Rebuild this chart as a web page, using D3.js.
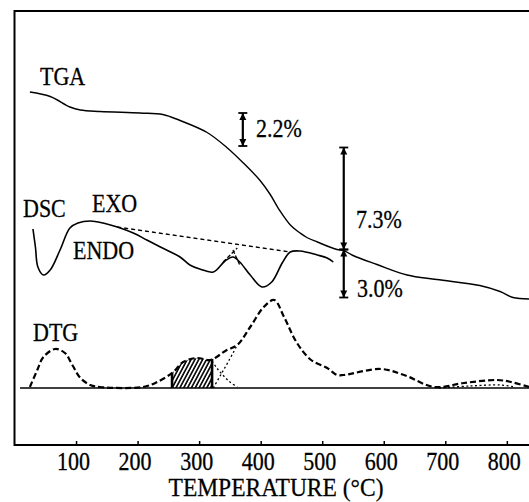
<!DOCTYPE html>
<html>
<head>
<meta charset="utf-8">
<script src="https://cdn.jsdelivr.net/npm/d3@7"></script>
<style>
  html, body { margin: 0; padding: 0; background: #fff; }
  svg { display: block; }
  text { font-family: "Liberation Serif", "Times New Roman", serif; fill: #000; stroke: #000; stroke-width: 0.25; }
</style>
</head>
<body>
<div id="chart"></div>
<script>
// ---- data ----
// x: temperature (deg C)
var xTicks = [100, 200, 300, 400, 500, 600, 700, 800];

// TGA, remaining mass (%)
var tgaTemp = [25, 58, 90, 107, 139, 204, 241, 269, 313, 345, 371, 399, 415, 431, 449, 464, 475, 492, 524, 534, 550, 589, 638, 686, 756, 789, 810, 836];
var tgaMass = [100.0, 99.7, 99.0, 98.8, 98.7, 98.6, 98.5, 98.1, 97.3, 96.3, 95.3, 94.1, 93.2, 92.1, 91.1, 90.6, 90.3, 90.0, 89.5, 89.45, 89.1, 88.5, 87.8, 87.5, 87.1, 86.7, 86.3, 86.2];

// DSC signal (arbitrary units, up = exo)
var dscTemp   = [30, 34, 38, 47, 58, 74, 90, 103, 123, 144, 167, 193, 215, 237, 269, 285, 301, 323, 342, 355, 366, 383, 402, 418, 435, 448, 464, 492, 508, 518];
var dscSignal = [71, 53, 33, 25, 30, 50, 72, 77, 79, 77, 73, 67, 60, 53, 43, 35, 31, 28, 39, 43, 38, 25, 13, 18, 37, 48, 49, 45, 42, 38];
// DSC interpolated baseline (dashed)
var dscBaseTemp   = [167, 448];
var dscBaseSignal = [73, 48];
// little crossing marks on the 360 C endotherm
var dscCrossA = [[339, 38], [362, 52]];
var dscCrossB = [[355, 50], [366, 35]];

// DTG signal (arbitrary units)
var dtgTemp   = [25, 37, 47, 66, 82, 94, 107, 123, 139, 209, 232, 258, 274, 297, 318, 345, 362, 383, 405, 422, 438, 459, 482, 508, 524, 535, 595, 633, 682, 730, 784, 807, 836];
var dtgSignal = [1, 18, 31, 39, 35, 23, 10, 3, 1, 1, 6, 16, 26, 30, 28, 38, 43, 61, 81, 88, 71, 45, 28, 20, 13, 13, 19, 13, 1, 5, 8, 6, 1];
// resolved components (dotted)
var compATemp = [321, 330, 340, 350, 362];
var compASignal = [27, 19, 12, 6, 1];
var compBTemp = [323, 335, 348, 362];
var compBSignal = [0, 13, 27, 43];
var compCTemp = [690, 740, 790, 812];
var compCSignal = [0, 2, 3, 1];
// hatched region
var hatchRange = [256, 321];

// mass-loss steps on TGA
var stepTemp  = [371, 535, 535];
var stepFrom  = [98.6, 96.3, 89.5];
var stepTo    = [96.4, 89.5, 86.3];
var stepLabel = ["2.2%", "7.3%", "3.0%"];

// ---- chart ----
var W = 529, H = 502;
var svg = d3.select("#chart").append("svg").attr("width", W).attr("height", H);

var x = d3.scaleLinear().domain([0, 836]).range([14.5, 529]);
var yMass = d3.scaleLinear().domain([80, 100]).range([392, 92]);
var yDsc  = d3.scaleLinear().domain([0, 100]).range([300, 200]);
var yDtg  = d3.scaleLinear().domain([0, 100]).range([388, 288]);

var frameTop = 11, frameBottom = 445;

// hatch pattern
var defs = svg.append("defs");
defs.append("pattern")
    .attr("id", "hatch")
    .attr("patternUnits", "userSpaceOnUse")
    .attr("width", 3.4).attr("height", 8)
    .attr("patternTransform", "rotate(28)")
  .append("line")
    .attr("x1", 0.9).attr("y1", 0).attr("x2", 0.9).attr("y2", 8)
    .attr("stroke", "#000").attr("stroke-width", 1.6);
defs.append("clipPath").attr("id", "hatchClip")
  .append("rect")
    .attr("x", x(hatchRange[0])).attr("y", 0)
    .attr("width", x(hatchRange[1]) - x(hatchRange[0])).attr("height", H);

// frame
svg.append("path")
    .attr("d", "M" + W + "," + frameTop + "H" + x(0) + "V" + frameBottom + "H" + W)
    .attr("fill", "none").attr("stroke", "#000").attr("stroke-width", 2);

// bottom axis (ticks pointing inside)
var xAxis = d3.axisBottom(x).tickValues(xTicks).tickSizeInner(-4).tickSizeOuter(0);
var xAxisEl = svg.append("g")
    .attr("transform", "translate(0," + frameBottom + ")")
    .call(xAxis);
xAxisEl.select(".domain").remove();
xAxisEl.selectAll(".tick line").attr("stroke", "#000").attr("stroke-width", 1.5);
xAxisEl.selectAll(".tick text")
    .attr("y", 0).attr("dy", 0)
    .attr("transform", "translate(-3,25) scale(1,1.17)")
    .attr("font-size", 22)
    .attr("font-family", "Liberation Serif, Times New Roman, serif")
    .attr("fill", "#000");

function label(txt, px, py, size, anchor, sy) {
  svg.append("text")
    .attr("transform", "translate(" + px + "," + py + ") scale(1," + (sy || 1.17) + ")")
    .attr("font-size", size)
    .attr("text-anchor", anchor || "start")
    .text(txt);
}
label("TEMPERATURE (\u00B0C)", 276, 496, 23.5, "middle", 1.06);

// DTG zero line
svg.append("line")
    .attr("x1", x(9)).attr("x2", W)
    .attr("y1", yDtg(0)).attr("y2", yDtg(0))
    .attr("stroke", "#000").attr("stroke-width", 1.6);

// line generators
function lineOf(xs, ys, yScale, curve) {
  var pts = xs.map(function (t, i) { return [t, ys[i]]; });
  return d3.line()
    .x(function (d) { return x(d[0]); })
    .y(function (d) { return yScale(d[1]); })
    .curve(curve || d3.curveCatmullRom.alpha(0.5))(pts);
}

// TGA
svg.append("path")
    .attr("d", lineOf(tgaTemp, tgaMass, yMass))
    .attr("fill", "none").attr("stroke", "#000").attr("stroke-width", 1.4);

// DSC
svg.append("path")
    .attr("d", lineOf(dscTemp, dscSignal, yDsc))
    .attr("fill", "none").attr("stroke", "#000").attr("stroke-width", 1.6);
svg.append("path")
    .attr("d", lineOf(dscBaseTemp, dscBaseSignal, yDsc, d3.curveLinear))
    .attr("fill", "none").attr("stroke", "#000").attr("stroke-width", 1.4)
    .attr("stroke-dasharray", "4,3");
[dscCrossA, dscCrossB].forEach(function (seg) {
  svg.append("path")
    .attr("d", lineOf(seg.map(function (d) { return d[0]; }), seg.map(function (d) { return d[1]; }), yDsc, d3.curveLinear))
    .attr("fill", "none").attr("stroke", "#000").attr("stroke-width", 1.3)
    .attr("stroke-dasharray", "4,2");
});

// DTG hatched area
var dtgPts = dtgTemp.map(function (t, i) { return [t, dtgSignal[i]]; });
svg.append("path")
    .attr("clip-path", "url(#hatchClip)")
    .attr("d", d3.area()
        .x(function (d) { return x(d[0]); })
        .y0(yDtg(0))
        .y1(function (d) { return yDtg(d[1]); })
        .curve(d3.curveCatmullRom.alpha(0.5))(dtgPts))
    .attr("fill", "url(#hatch)");
// heavy edges of the hatched region
var dtgAt = d3.scaleLinear().domain(dtgTemp).range(dtgSignal);
hatchRange.forEach(function (t) {
  svg.append("line")
    .attr("x1", x(t)).attr("x2", x(t))
    .attr("y1", yDtg(0)).attr("y2", yDtg(dtgAt(t)))
    .attr("stroke", "#000").attr("stroke-width", 2.6);
});

// DTG components
[[compATemp, compASignal], [compBTemp, compBSignal], [compCTemp, compCSignal]].forEach(function (c) {
  svg.append("path")
    .attr("d", lineOf(c[0], c[1], yDtg))
    .attr("fill", "none").attr("stroke", "#000").attr("stroke-width", 1.3)
    .attr("stroke-dasharray", "2,2.5");
});

// DTG curve
svg.append("path")
    .attr("d", lineOf(dtgTemp, dtgSignal, yDtg))
    .attr("fill", "none").attr("stroke", "#000").attr("stroke-width", 2.2)
    .attr("stroke-dasharray", "6,3");

// mass-loss step bars
function arrowEnd(px, py, dir) {
  // dir = -1 arrow pointing up, +1 pointing down
  svg.append("line")
    .attr("x1", px - 4.5).attr("x2", px + 4.5)
    .attr("y1", py).attr("y2", py)
    .attr("stroke", "#000").attr("stroke-width", 1.8);
  svg.append("path")
    .attr("d", "M" + px + "," + py + "L" + (px - 3.5) + "," + (py - dir * 7) + "L" + (px + 3.5) + "," + (py - dir * 7) + "Z")
    .attr("fill", "#000");
}
stepTemp.forEach(function (t, i) {
  var px = x(t), y1 = yMass(stepFrom[i]), y2 = yMass(stepTo[i]);
  svg.append("line")
    .attr("x1", px).attr("x2", px).attr("y1", y1).attr("y2", y2)
    .attr("stroke", "#000").attr("stroke-width", 2.2);
  arrowEnd(px, y1, -1);
  arrowEnd(px, y2, 1);
});

// labels
label("TGA", 40, 85, 22);
label("DSC", 23, 217, 22);
label("EXO", 92, 212, 22);
label("ENDO", 73, 259, 22);
label("DTG", 33, 341, 22);
label(stepLabel[0], 256, 137, 22);
label(stepLabel[1], 356, 228, 22);
label(stepLabel[2], 357, 297, 22);
</script>
</body>
</html>
